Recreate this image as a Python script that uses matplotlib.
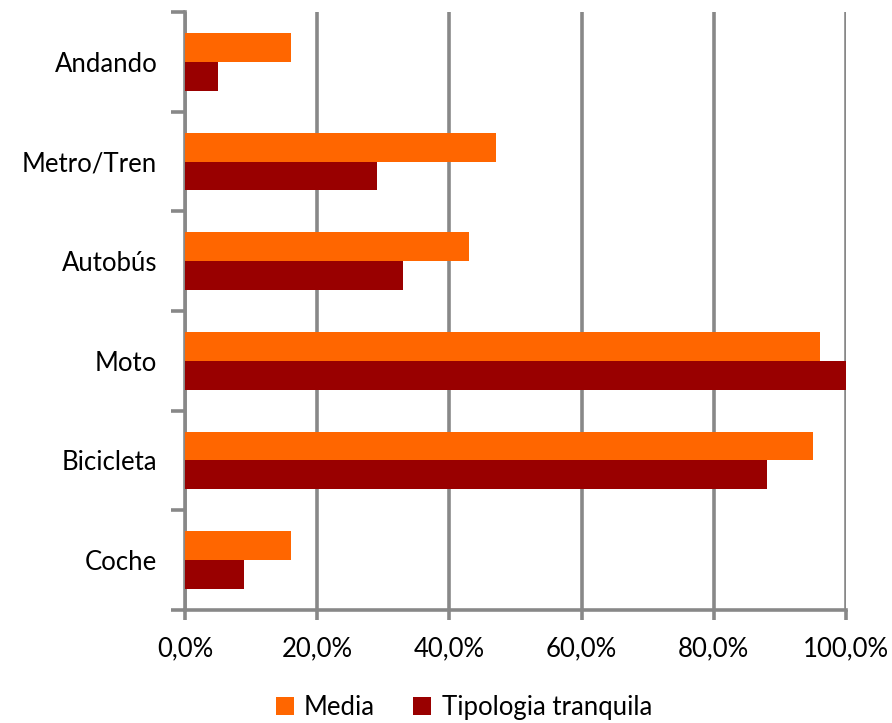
import matplotlib.pyplot as plt
import numpy as np
from matplotlib.ticker import FuncFormatter, MultipleLocator

# categories listed bottom to top
categories = ["Coche", "Bicicleta", "Moto", "Autobús", "Metro/Tren", "Andando"]
media = [16, 95, 96, 43, 47, 16]
tipologia = [9, 88, 100, 33, 29, 5]

orange = "#FF6600"
darkred = "#990000"
grid_gray = "#888888"

plt.rcParams["font.family"] = ["Lato", "DejaVu Sans"]

fig = plt.figure(figsize=(8.92, 7.23), dpi=100)
ax = fig.add_axes([0.2074, 0.1563, 0.7410, 0.8271])

y = np.arange(len(categories))
h = 0.29
ax.barh(y + h / 2, media, height=h, color=orange, label="Media", zorder=3)
ax.barh(y - h / 2, tipologia, height=h, color=darkred, label="Tipologia tranquila", zorder=3)

ax.set_xlim(0, 100)
ax.set_ylim(-0.5, len(categories) - 0.5)
ax.xaxis.set_major_locator(MultipleLocator(20))
ax.xaxis.set_major_formatter(FuncFormatter(lambda v, p: f"{v:.1f}%".replace(".", ",")))
ax.grid(axis="x", color=grid_gray, linewidth=2.6, zorder=0)

# category labels sit between the tick marks on the y axis
ax.set_yticks(y)
ax.set_yticklabels(categories)
ax.set_yticks(np.arange(-0.5, len(categories)), minor=True)
ax.tick_params(axis="y", which="major", length=0, pad=20, labelsize=18.5)
ax.tick_params(axis="y", which="minor", length=10, width=2.6, color=grid_gray)
ax.tick_params(axis="x", length=7, width=2.6, color=grid_gray, pad=12, labelsize=18.5)

for side in ["top", "right"]:
    ax.spines[side].set_visible(False)
for side in ["left", "bottom"]:
    ax.spines[side].set_color(grid_gray)
    ax.spines[side].set_linewidth(2.6)

handles, labels = ax.get_legend_handles_labels()
fig.legend(handles, labels, loc="center", bbox_to_anchor=(0.52, 0.022), ncol=2,
           frameon=False, fontsize=18.5, handlelength=0.7, handleheight=0.7,
           handletextpad=0.4, columnspacing=1.5, borderpad=0)

fig.savefig("out.png", dpi=100)
